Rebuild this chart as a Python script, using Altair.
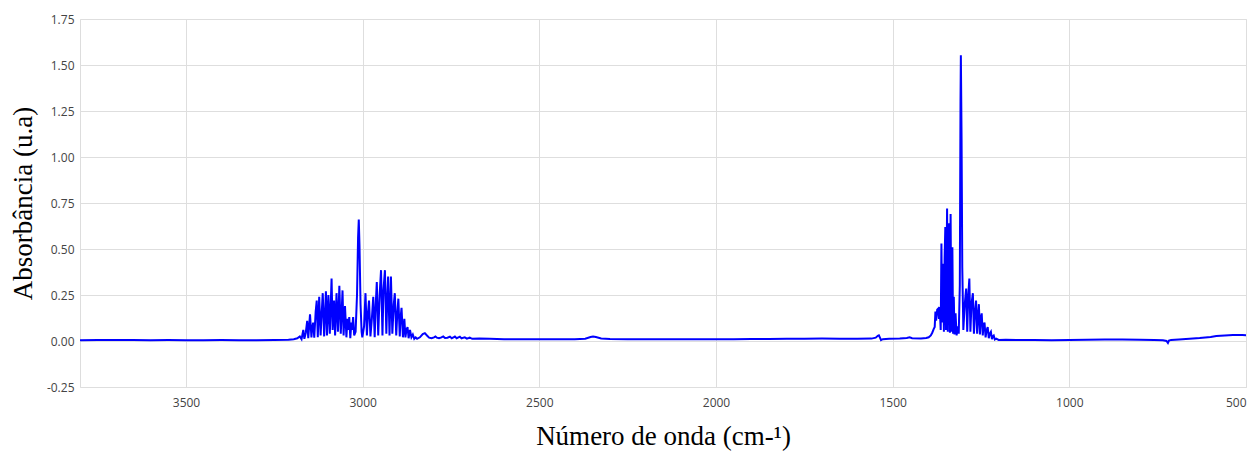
import altair as alt
import pandas as pd

wavenumber = [
    3800, 3750, 3700, 3650, 3600, 3550, 3500, 3450, 3400, 3350, 3300, 3250, 3210, 3195, 3185,
    3178, 3173, 3168, 3165, 3161, 3157, 3154, 3149, 3145, 3143, 3140, 3137, 3133, 3130, 3127,
    3123, 3119, 3116, 3113, 3109, 3104, 3101, 3097, 3093, 3088, 3085, 3081, 3078, 3074, 3070,
    3066, 3062, 3057, 3054, 3050, 3046, 3043, 3040, 3038, 3035, 3032, 3030, 3027, 3024, 3020,
    3016, 3013, 3011, 3009, 3006, 3003, 3001,
    2996, 2992, 2988, 2985, 2982, 2978, 2974, 2970, 2966, 2963, 2960, 2956, 2952, 2948, 2944,
    2941, 2937, 2933, 2930, 2928, 2924, 2920, 2916, 2912, 2909, 2905, 2902, 2899, 2895, 2893,
    2890, 2886, 2882, 2879, 2876, 2873, 2870, 2866, 2862, 2858, 2854, 2850, 2846, 2838, 2830,
    2824, 2818, 2812, 2805, 2798, 2794, 2790, 2784, 2777, 2772, 2767, 2760, 2753, 2748, 2743,
    2739, 2734, 2729, 2725, 2720, 2715, 2711, 2705, 2700, 2697, 2690, 2670, 2640, 2600, 2550,
    2500, 2450, 2400, 2370, 2355, 2348, 2340, 2325, 2300, 2250, 2200, 2150, 2100, 2050, 2000,
    1950, 1900, 1850, 1800, 1750, 1700, 1650, 1600, 1560, 1548, 1542, 1539, 1536, 1533, 1528,
    1510, 1480, 1460, 1452, 1445, 1420, 1405, 1398, 1392, 1388, 1384, 1381, 1379, 1377, 1374,
    1371, 1369, 1367, 1364, 1362, 1360, 1357, 1355, 1353, 1351, 1349, 1346, 1344, 1342, 1340,
    1338, 1336, 1334, 1331, 1329, 1327, 1325, 1322, 1319, 1316, 1313, 1310, 1308, 1307, 1305,
    1303, 1302, 1300, 1296, 1292, 1289, 1286, 1283, 1280, 1277, 1273, 1270, 1267, 1264, 1261,
    1258, 1256, 1253, 1251, 1248, 1245, 1243, 1240, 1237, 1234, 1231, 1228, 1225, 1222, 1219,
    1217, 1214, 1211, 1207, 1200, 1180, 1150, 1100, 1050, 1000, 950, 900, 850, 800, 760,
    735, 725, 721, 718, 712, 690, 660, 631, 600, 584, 560, 537, 510, 481, 475,
]

absorbance = [
    0.004, 0.005, 0.006, 0.005, 0.004, 0.005, 0.004, 0.004, 0.005, 0.004, 0.004, 0.005, 0.007, 0.010, 0.015,
    0.025, 0.010, 0.060, 0.012, 0.045, 0.110, 0.015, 0.145, 0.020, 0.070, 0.100, 0.018, 0.160, 0.220, 0.020,
    0.240, 0.030, 0.150, 0.260, 0.025, 0.270, 0.030, 0.250, 0.040, 0.340, 0.060, 0.220, 0.030, 0.260, 0.050,
    0.300, 0.040, 0.275, 0.030, 0.190, 0.020, 0.120, 0.060, 0.130, 0.015, 0.100, 0.060, 0.130, 0.030, 0.050,
    0.250, 0.560, 0.660, 0.520, 0.200, 0.050, 0.020,
    0.080, 0.260, 0.030, 0.150, 0.220, 0.025, 0.120, 0.240, 0.020, 0.200, 0.320, 0.030, 0.250, 0.385, 0.030,
    0.280, 0.385, 0.040, 0.250, 0.350, 0.030, 0.350, 0.040, 0.200, 0.260, 0.030, 0.150, 0.230, 0.025, 0.120,
    0.180, 0.020, 0.120, 0.020, 0.060, 0.076, 0.015, 0.060, 0.020, 0.035, 0.012, 0.020, 0.012, 0.020, 0.038,
    0.043, 0.030, 0.018, 0.015, 0.020, 0.025, 0.018, 0.015, 0.020, 0.025, 0.016, 0.018, 0.024, 0.015, 0.020,
    0.024, 0.015, 0.020, 0.023, 0.014, 0.018, 0.020, 0.013, 0.016, 0.018, 0.012, 0.013, 0.012, 0.010, 0.010,
    0.009, 0.009, 0.010, 0.012, 0.022, 0.025, 0.022, 0.014, 0.011, 0.010, 0.009, 0.009, 0.010, 0.009, 0.009,
    0.010, 0.011, 0.011, 0.012, 0.012, 0.013, 0.012, 0.012, 0.013, 0.018, 0.028, 0.031, 0.018, 0.005, 0.010,
    0.012, 0.013, 0.016, 0.020, 0.015, 0.014, 0.016, 0.020, 0.030, 0.045, 0.065, 0.076, 0.160, 0.110, 0.170,
    0.176, 0.120, 0.185, 0.060, 0.530, 0.100, 0.420, 0.050, 0.450, 0.620, 0.060, 0.720, 0.050, 0.600, 0.640,
    0.045, 0.690, 0.050, 0.510, 0.040, 0.240, 0.035, 0.150, 0.030, 0.080, 0.040, 0.300, 1.300, 1.553, 1.100,
    0.400, 0.290, 0.060, 0.200, 0.285, 0.050, 0.250, 0.340, 0.050, 0.200, 0.260, 0.040, 0.160, 0.220, 0.040,
    0.150, 0.200, 0.035, 0.120, 0.150, 0.030, 0.080, 0.100, 0.020, 0.060, 0.076, 0.015, 0.040, 0.050, 0.010,
    0.025, 0.030, 0.008, 0.013, 0.006, 0.007, 0.006, 0.005, 0.004, 0.005, 0.007, 0.008, 0.008, 0.007, 0.006,
    0.004, 0.000, -0.011, 0.002, 0.006, 0.008, 0.012, 0.016, 0.022, 0.027, 0.030, 0.033, 0.032, 0.030, 0.030,
]

x_ticks = [3500, 3000, 2500, 2000, 1500, 1000, 500]
y_ticks = [-0.25, 0.0, 0.25, 0.5, 0.75, 1.0, 1.25, 1.5, 1.75]

df = pd.DataFrame({"wn": wavenumber, "abs": absorbance})

label_font = "Open Sans"
title_font = "Liberation Serif"

chart = (
    alt.Chart(df)
    .mark_line(color="#0000ff", strokeWidth=2, clip=True)
    .encode(
        x=alt.X(
            "wn:Q",
            scale=alt.Scale(domain=[3800, 500], nice=False, zero=False),
            axis=alt.Axis(
                values=x_ticks,
                format="d",
                title="Número de onda (cm-¹)",
                titleFont=title_font,
                titleFontSize=27,
                titleFontWeight="normal",
                titleColor="#000000",
                titlePadding=15,
                labelFont=label_font,
                labelFontSize=12,
                labelColor="#444444",
                labelPadding=10,
                labelFlush=3,
                labelOverlap=False,
                ticks=False,
                domain=False,
                grid=True,
                gridColor="#dedede",
                gridWidth=1,
            ),
        ),
        y=alt.Y(
            "abs:Q",
            scale=alt.Scale(domain=[-0.25, 1.75], nice=False, zero=False),
            axis=alt.Axis(
                values=y_ticks,
                labelExpr="(datum.value < 0 ? '-' : '') + format(abs(datum.value), '.2f')",
                title="Absorbância (u.a)",
                titleFont=title_font,
                titleFontSize=27,
                titleFontWeight="normal",
                titleColor="#000000",
                titlePadding=9,
                labelFont=label_font,
                labelFontSize=12,
                labelColor="#444444",
                labelPadding=6,
                ticks=False,
                domain=False,
                grid=True,
                gridColor="#dedede",
                gridWidth=1,
            ),
        ),
    )
    .properties(
        width=1166,
        height=368,
        autosize=alt.AutoSizeParams(type="none"),
        padding={"left": 72, "top": 11, "right": 1, "bottom": 66},
    )
    .configure_view(stroke="#444444", strokeWidth=2)
    .configure(background="#ffffff")
)

chart.save("out.html", embed_options={"renderer": "svg", "actions": False})
